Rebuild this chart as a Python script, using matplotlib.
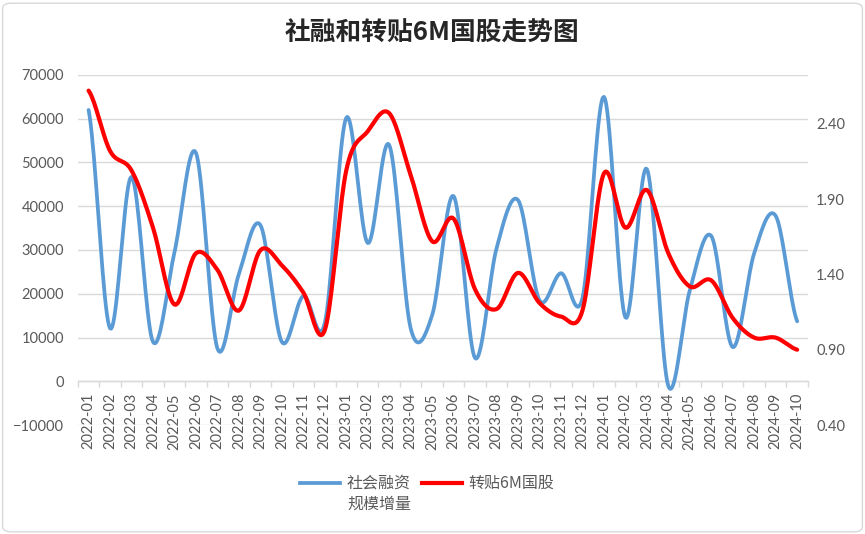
import numpy as np
import matplotlib
matplotlib.use("Agg")
import matplotlib.pyplot as plt
from matplotlib.lines import Line2D
from matplotlib.patches import FancyBboxPatch

plt.rcParams["font.family"] = ["Lato", "Noto Sans CJK SC", "DejaVu Sans"]

# ---- data ----
months = [
    "2022-01", "2022-02", "2022-03", "2022-04", "2022-05", "2022-06",
    "2022-07", "2022-08", "2022-09", "2022-10", "2022-11", "2022-12",
    "2023-01", "2023-02", "2023-03", "2023-04", "2023-05", "2023-06",
    "2023-07", "2023-08", "2023-09", "2023-10", "2023-11", "2023-12",
    "2024-01", "2024-02", "2024-03", "2024-04", "2024-05", "2024-06",
    "2024-07", "2024-08", "2024-09", "2024-10",
]
social_financing = [
    62000, 12100, 46700, 9000, 29500, 52200,
    7500, 24500, 35700, 9000, 19500, 13300,
    60200, 31600, 54000, 12100, 15100, 42300,
    5300, 30400, 41400, 18500, 24700, 19000,
    65000, 14600, 48500, -1100, 20800, 33200,
    7800, 29300, 37800, 13700,
]
discount_6m = [
    2.62, 2.22, 2.09, 1.71, 1.20, 1.54,
    1.43, 1.16, 1.56, 1.46, 1.28, 1.03,
    2.09, 2.35, 2.47, 2.06, 1.62, 1.77,
    1.30, 1.17, 1.41, 1.21, 1.12, 1.16,
    2.07, 1.71, 1.96, 1.54, 1.32, 1.36,
    1.11, 0.98, 0.98, 0.90,
]

BLUE = "#5b9bd5"
RED = "#ff0000"
GRAY_TXT = "#595959"
GRID = "#d9d9d9"
CJK = ["Noto Sans CJK SC", "DejaVu Sans"]


def smooth(x, y, n=20):
    """Excel-like smoothed line (Catmull-Rom through the points)."""
    x = np.asarray(x, float)
    y = np.asarray(y, float)
    px = np.concatenate([[2 * x[0] - x[1]], x, [2 * x[-1] - x[-2]]])
    py = np.concatenate([[y[0]], y, [y[-1]]])
    xs, ys = [], []
    t = np.linspace(0, 1, n, endpoint=False)
    for i in range(1, len(px) - 2):
        for arr, pts in ((xs, px[i - 1:i + 3]), (ys, py[i - 1:i + 3])):
            a0, a1, a2, a3 = pts
            arr.extend(0.5 * ((2 * a1) + (-a0 + a2) * t
                              + (2 * a0 - 5 * a1 + 4 * a2 - a3) * t ** 2
                              + (-a0 + 3 * a1 - 3 * a2 + a3) * t ** 3))
    xs.append(x[-1])
    ys.append(y[-1])
    return np.array(xs), np.array(ys)


fig = plt.figure(figsize=(8.65, 5.34), dpi=100)
ax = fig.add_axes([0.090, 0.2041, 0.844, 0.6555])
ax2 = ax.twinx()

xpos = np.arange(len(months))

sx, sy = smooth(xpos, social_financing)
ax.plot(sx, sy, color=BLUE, lw=2.7, solid_capstyle="round", zorder=3)
rx, ry = smooth(xpos, discount_6m)
ax2.plot(rx, ry, color=RED, lw=3.0, solid_capstyle="round", zorder=4)

ax.set_xlim(-0.5, len(months) - 0.5)
ax.set_ylim(-10000, 70000)
ax.set_yticks(np.arange(-10000, 70001, 10000))
ax.yaxis.grid(True, color=GRID, lw=1)
ax.set_axisbelow(True)

ax2.set_ylim(0.40, 2.724)
right_ticks = [0.40, 0.90, 1.40, 1.90, 2.40]
ax2.set_yticks(right_ticks)
ax2.set_yticklabels([f"{v:.2f}" for v in right_ticks])

for a in (ax, ax2):
    for s in a.spines.values():
        s.set_visible(False)
    a.tick_params(axis="y", length=0, labelsize=10.5, labelcolor=GRAY_TXT)

ax.tick_params(axis="y", pad=10)
ax2.tick_params(axis="y", pad=6)
ax.set_xticks([])

# category axis sits at zero: tick marks between categories, labels right below
zero_ax = ax.secondary_xaxis(0.125)
zero_ax.set_xticks(np.arange(-0.5, len(months), 1.0))
zero_ax.set_xticklabels([])
zero_ax.set_xticks(xpos, labels=months, minor=True)
zero_ax.tick_params(axis="x", which="major", length=4, color=GRID, width=1)
zero_ax.tick_params(axis="x", which="minor", length=0, pad=8.5, rotation=90,
                    labelsize=10.5, labelcolor=GRAY_TXT)
zero_ax.spines["bottom"].set_color(GRID)
zero_ax.spines["bottom"].set_linewidth(1)

fig.text(0.5, 0.938, "社融和转贴6M国股走势图", ha="center", va="center",
         fontsize=18.5, fontweight="bold", color="#262626", family=CJK)

# legend
fig.add_artist(Line2D([300 / 865, 340 / 865], [1 - 483 / 534] * 2, color=BLUE, lw=2.7,
                      transform=fig.transFigure))
fig.text(347 / 865, 1 - 483 / 534, "社会融资", ha="left", va="center",
         fontsize=11.5, color=GRAY_TXT, family=CJK)
fig.text(347 / 865, 1 - 504 / 534, "规模增量", ha="left", va="center",
         fontsize=11.5, color=GRAY_TXT, family=CJK)
fig.add_artist(Line2D([422 / 865, 462 / 865], [1 - 483 / 534] * 2, color=RED, lw=3.0,
                      transform=fig.transFigure))
fig.text(468 / 865, 1 - 483 / 534, "转贴6M国股", ha="left", va="center",
         fontsize=11.5, color=GRAY_TXT, family=CJK)

fig.patches.append(FancyBboxPatch((0.003, 0.004), 0.994, 0.99, transform=fig.transFigure,
                                  boxstyle="round,pad=0,rounding_size=0.01",
                                  fc="none", ec="#d9d9d9", lw=1))

fig.savefig("out.png", dpi=100)
